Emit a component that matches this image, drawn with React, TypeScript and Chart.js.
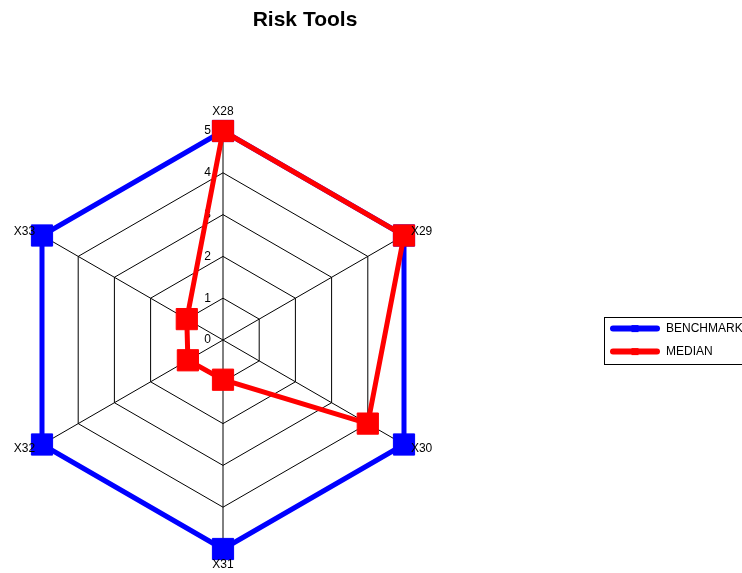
import React, { useEffect, useRef } from 'react';
import { Chart, registerables } from 'chart.js';

Chart.register(...registerables);

// ---- data ----
const TITLE = 'Risk Tools';
const CATEGORIES = ['X28', 'X29', 'X30', 'X31', 'X32', 'X33'];
const BENCHMARK = [5, 5, 5, 5, 5, 5];
const MEDIAN = [5, 5, 4, 0.95, 0.97, 1];
const TICK_VALUES = [0, 1, 2, 3, 4, 5];
const SERIES_NAMES = ['BENCHMARK', 'MEDIAN'];
const SERIES_COLORS = ['#0000ff', '#ff0000'];

// ---- layout ----
const VIEW_W = 742;
const VIEW_H = 573;
const CANVAS_W = 916;
const OFFSET_X = -153;
const LEGEND_W = 164;
const FONT = "'Liberation Sans', Arial, Helvetica, sans-serif";

function patchLegend(chart: any) {
  const lg = chart.legend;
  if (!lg || lg.__patched) return;
  const orig = lg.fit;
  lg.fit = function () {
    orig.call(this);
    this.width = LEGEND_W;
  };
  lg.__patched = true;
}

const legendWidthPlugin = {
  id: 'legendWidth',
  beforeInit(chart: any) {
    patchLegend(chart);
  },
  afterInit(chart: any) {
    patchLegend(chart);
  },
};

const radarTextPlugin = {
  id: 'radarText',
  beforeDatasetsDraw(chart: any) {
    const s = chart.scales.r;
    const ctx = chart.ctx;
    ctx.save();
    ctx.font = `12px ${FONT}`;
    ctx.fillStyle = '#000';
    ctx.textAlign = 'right';
    ctx.textBaseline = 'middle';
    TICK_VALUES.forEach((v) => {
      const p = s.getPointPositionForValue(0, v);
      ctx.fillText(String(v), s.xCenter - 12, p.y);
    });
    ctx.restore();
  },
  afterDatasetsDraw(chart: any) {
    const s = chart.scales.r;
    const ctx = chart.ctx;
    const R = s.drawingArea;
    ctx.save();
    ctx.font = `12px ${FONT}`;
    ctx.fillStyle = '#000';
    ctx.textBaseline = 'middle';
    (chart.data.labels as string[]).forEach((lab, i) => {
      const a = s.getIndexAngle(i);
      const v = s.getPointPosition(i, R);
      const p = s.getPointPosition(i, R + 8);
      const sx = Math.sin(a);
      if (Math.abs(sx) < 0.01) {
        ctx.textAlign = 'center';
        const y = Math.cos(a) > 0 ? v.y - 19 : v.y + 16;
        ctx.fillText(lab, v.x, y);
      } else {
        ctx.textAlign = sx > 0 ? 'left' : 'right';
        ctx.fillText(lab, p.x, p.y);
      }
    });
    ctx.restore();

    // legend decorations: frame and small markers
    const lg = chart.legend;
    if (lg && lg.legendHitBoxes && lg.legendHitBoxes.length) {
      const hb = lg.legendHitBoxes;
      const boxW = lg.options.labels.boxWidth;
      const top = hb[0].top - 6;
      const last = hb[hb.length - 1];
      const bottom = last.top + last.height + 6;
      ctx.save();
      ctx.strokeStyle = '#000';
      ctx.lineWidth = 1;
      ctx.strokeRect(Math.round(lg.left + 5) + 0.5, Math.round(top) + 0.5, lg.right - lg.left - 10, Math.round(bottom - top));
      lg.legendItems.forEach((it: any, i: number) => {
        const h = hb[i];
        ctx.fillStyle = it.strokeStyle;
        ctx.fillRect(h.left + boxW / 2 - 3.5, h.top + h.height / 2 - 3.5, 7, 7);
      });
      ctx.restore();
    }
  },
};

export default function App() {
  const ref = useRef<HTMLCanvasElement | null>(null);

  useEffect(() => {
    if (!ref.current) return;
    Chart.defaults.font.family = FONT;
    const series = [BENCHMARK, MEDIAN];
    const chart = new Chart(ref.current, {
      type: 'radar',
      data: {
        labels: CATEGORIES,
        datasets: series.map((d, i) => ({
          label: SERIES_NAMES[i],
          data: d,
          borderColor: SERIES_COLORS[i],
          backgroundColor: SERIES_COLORS[i],
          pointBackgroundColor: SERIES_COLORS[i],
          pointBorderColor: SERIES_COLORS[i],
          pointStyle: 'rect',
          pointRadius: 15,
          pointHoverRadius: 15,
          pointBorderWidth: 1,
          borderWidth: 5,
          fill: false,
          order: i === 0 ? 1 : 0,
          clip: false,
        })) as any,
      },
      options: {
        responsive: false,
        animation: false,
        events: [],
        layout: { padding: { top: 0, right: 0, bottom: 23, left: 0 } },
        scales: {
          r: {
            min: TICK_VALUES[0],
            max: TICK_VALUES[TICK_VALUES.length - 1],
            ticks: { display: false, stepSize: 1 },
            pointLabels: { display: false },
            grid: { color: '#000', lineWidth: 1 },
            angleLines: { color: '#000', lineWidth: 1 },
          },
        },
        plugins: {
          title: {
            display: true,
            text: TITLE,
            color: '#000',
            font: { size: 21, weight: 'bold', family: FONT },
            padding: { top: 8, bottom: 97 },
          },
          legend: {
            position: 'right',
            fullSize: false,
            align: 'center',
            onClick: () => {},
            labels: {
              boxWidth: 50,
              boxHeight: 6,
              padding: 11,
              color: '#000',
              font: { size: 12, family: FONT },
              generateLabels: (c: any) => {
                const items = (Chart.defaults.plugins.legend.labels as any).generateLabels(c);
                return items
                  .sort((a: any, b: any) => a.datasetIndex - b.datasetIndex)
                  .map((it: any) => ({ ...it, fillStyle: it.strokeStyle, lineWidth: 0, borderRadius: 3 }));
              },
            },
          },
          tooltip: { enabled: false },
        },
      } as any,
      plugins: [legendWidthPlugin, radarTextPlugin],
    });
    return () => chart.destroy();
  }, []);

  return (
    <div style={{ position: 'fixed', left: 0, top: 0, width: VIEW_W, height: VIEW_H, overflow: 'hidden', background: '#fff' }}>
      <div style={{ position: 'absolute', left: OFFSET_X, top: 0, width: CANVAS_W, height: VIEW_H }}>
        <canvas ref={ref} width={CANVAS_W} height={VIEW_H} style={{ width: CANVAS_W, height: VIEW_H, display: 'block' }} />
      </div>
    </div>
  );
}
